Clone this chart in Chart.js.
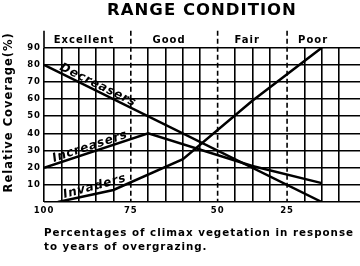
<!DOCTYPE html>
<html>
<head>
<meta charset="utf-8">
<script src="https://cdn.jsdelivr.net/npm/chart.js@4/dist/chart.umd.min.js"></script>
<style>
  html, body { margin: 0; padding: 0; background: #fff; }
  #wrap { width: 360px; height: 266px; }
</style>
</head>
<body>
<div id="wrap"><canvas id="chart"></canvas></div>
<script>
// x is counted in grid cells (years of overgrazing), 0 = 100 % climax vegetation
var decreasersX = [0, 16],
    decreasersY = [80, 0],
    increasersX = [0, 6, 12, 16],
    increasersY = [20, 40, 21, 11],
    invadersX = [0.8, 4, 8, 12, 16],
    invadersY = [0, 7, 25, 59, 90];

var seriesNames = ['Decreasers', 'Increasers', 'Invaders'];

var xGridCells = [0, 1, 2, 3, 4, 5, 6, 7, 8, 9, 10, 11, 12, 13, 14, 15, 16, 17],
    xTickValues = [0, 5, 10, 14],
    xTickLabels = ['100', '75', '50', '25'];

var conditionNames = ['Excellent', 'Good', 'Fair', 'Poor'],
    conditionCenters = [2.3, 7.2, 11.7, 15.5],
    conditionBounds = [5, 10, 14];

var fontFamily = '"DejaVu Sans", sans-serif';
Chart.defaults.font.family = fontFamily;
Chart.defaults.color = '#000';

function toPoints(xs, ys) {
    return xs.map((x, i) => ({ x: x, y: ys[i] }));
}

function valueAt(xs, ys, v) {
    for (let i = 1; i < xs.length; i++) {
        if (v <= xs[i]) {
            let t = (v - xs[i - 1]) / (xs[i] - xs[i - 1]);
            return ys[i - 1] + t * (ys[i] - ys[i - 1]);
        }
    }
    return ys[ys.length - 1];
}

var seriesX = [decreasersX, increasersX, invadersX],
    seriesY = [decreasersY, increasersY, invadersY];

// where along x each hand lettered name sits
var labelSpans = [[0.8, 5.0], [0.6, 5.0], [1.2, 4.9]];

var rangeMarks = {
    id: 'rangeMarks',
    beforeDraw(chart) {
        chart.ctx.letterSpacing = '1px';
    },
    beforeDatasetsDraw(chart) {
        const { ctx, chartArea, scales: { x } } = chart;
        const top = chartArea.top - 17;
        ctx.save();
        ctx.strokeStyle = '#000';
        ctx.lineWidth = 1.6;
        // y axis runs up through the condition band
        const x0 = x.getPixelForValue(0);
        ctx.beginPath();
        ctx.moveTo(x0, top);
        ctx.lineTo(x0, chartArea.top);
        ctx.stroke();
        ctx.setLineDash([5, 3]);
        conditionBounds.forEach(v => {
            const px = x.getPixelForValue(v);
            ctx.beginPath();
            ctx.moveTo(px, top);
            ctx.lineTo(px, chartArea.bottom);
            ctx.stroke();
        });
        ctx.restore();
    },
    afterDatasetsDraw(chart) {
        const { ctx, scales: { x, y } } = chart;
        ctx.save();
        ctx.font = 'italic bold 12px ' + fontFamily;
        ctx.fillStyle = '#000';
        ctx.letterSpacing = '0.8px';
        ctx.textAlign = 'left';
        ctx.textBaseline = 'alphabetic';
        seriesNames.forEach((name, i) => {
            const a = labelSpans[i][0], b = labelSpans[i][1];
            const x1 = x.getPixelForValue(a), y1 = y.getPixelForValue(valueAt(seriesX[i], seriesY[i], a));
            const x2 = x.getPixelForValue(b), y2 = y.getPixelForValue(valueAt(seriesX[i], seriesY[i], b));
            ctx.save();
            ctx.translate(x1, y1);
            ctx.rotate(Math.atan2(y2 - y1, x2 - x1));
            ctx.fillText(name, 0, -2.5);
            ctx.restore();
        });
        ctx.restore();
    }
};

new Chart(document.getElementById('chart'), {
    type: 'line',
    data: {
        datasets: seriesNames.map((name, i) => ({
            label: name,
            data: toPoints(seriesX[i], seriesY[i]),
            borderColor: '#000',
            borderWidth: 2.5,
            pointRadius: 0,
            tension: 0,
            fill: false
        }))
    },
    options: {
        responsive: true,
        maintainAspectRatio: false,
        animation: false,
        layout: { padding: 0 },
        plugins: {
            legend: { display: false },
            tooltip: { enabled: false },
            title: {
                display: true,
                text: 'RANGE CONDITION',
                fullSize: false,
                color: '#000',
                font: { size: 16.5, weight: 'bold' },
                padding: { top: 1, bottom: 6 }
            }
        },
        scales: {
            x: {
                type: 'linear',
                position: 'bottom',
                min: 0,
                max: 18.2,
                afterBuildTicks: axis => { axis.ticks = xGridCells.map(v => ({ value: v })); },
                afterFit: axis => { axis.height = 64; },
                grid: {
                    color: ctx => (ctx.tick && conditionBounds.includes(ctx.tick.value)) ? 'rgba(0,0,0,0)' : '#000',
                    lineWidth: 1.6,
                    drawTicks: false
                },
                border: { display: false },
                ticks: {
                    autoSkip: false,
                    maxRotation: 0,
                    padding: 4,
                    font: { size: 8.5, weight: 'bold' },
                    callback: v => {
                        let i = xTickValues.indexOf(v);
                        return i < 0 ? '' : xTickLabels[i];
                    }
                },
                title: {
                    display: true,
                    text: ['Percentages of climax vegetation in response', 'to years of overgrazing.'],
                    align: 'start',
                    font: { size: 10.3, weight: 'bold', lineHeight: 1.34 },
                    padding: { top: 0, bottom: 12 }
                }
            },
            top: {
                type: 'linear',
                position: 'top',
                min: 0,
                max: 18.2,
                afterBuildTicks: axis => { axis.ticks = conditionCenters.map(v => ({ value: v })); },
                afterFit: axis => { axis.height = 20.9; },
                grid: { display: false, drawTicks: false },
                border: { display: false },
                ticks: {
                    autoSkip: false,
                    maxRotation: 0,
                    padding: 1,
                    font: { size: 10, weight: 'bold' },
                    callback: (v, i) => conditionNames[i]
                }
            },
            y: {
                min: 0,
                max: 90,
                afterFit: axis => { axis.width = 44; },
                grid: { color: '#000', lineWidth: 1.6, drawTicks: false },
                border: { display: false },
                ticks: {
                    stepSize: 10,
                    padding: 3,
                    font: { size: 8.5, weight: 'bold' },
                    callback: v => v === 0 ? '' : v
                },
                title: {
                    display: true,
                    text: '\u00a0\u00a0\u00a0\u00a0\u00a0Relative Coverage(%)',
                    font: { size: 11.5, weight: 'bold' },
                    padding: { top: 2, bottom: 0 }
                }
            }
        }
    },
    plugins: [rangeMarks]
});
</script>
</body>
</html>
